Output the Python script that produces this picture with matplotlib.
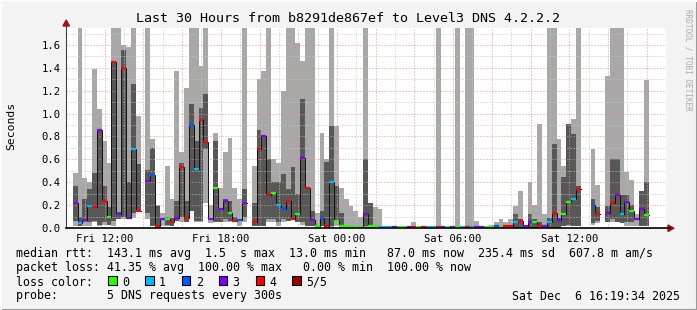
import numpy as np
import matplotlib
matplotlib.use('Agg')
from matplotlib import pyplot as plt
from matplotlib.patches import Rectangle, Polygon
from matplotlib.lines import Line2D

nan = np.nan
W, H = 697, 310

# time axis: hours since Fri 00:00, one bin = 15 min
start_hour = 10.35
bin_hours = 0.25

light_lo = [0.02, 0.02, 0.02, 0.02, 0.05, 0.02, 0.03, 0.03, 0.02, 0.08, 0.08, 0.08, 0.09, 0.15, nan, 0.08, 0.02, 0.0, 0.02, 0.02,
            0.02, 0.06, 0.05, 0.05, 0.15, 0.05, 0.05, 0.22, 0.04, 0.05, 0.05, 0.05, 0.05, 0.05, 0.02, 0.05, nan, 0.02, 0.02, 0.02,
            0.05, 0.05, 0.02, 0.05, 0.06, 0.08, 0.05, 0.03, 0.02, 0.02, 0.0, 0.02, 0.0, 0.0, 0.02, 0.0, 0.0, 0.0, 0.0, 0.0,
            0.0, 0.0, 0.0, 0.0, 0.0, 0.0, 0.0, 0.0, 0.0, 0.0, 0.0, 0.0, 0.0, 0.0, 0.0, 0.0, 0.0, 0.0, 0.0, 0.0,
            0.0, 0.0, 0.0, 0.0, 0.0, 0.0, 0.0, 0.0, 0.0, 0.0, 0.0, 0.0, 0.0, 0.0, 0.0, 0.0, 0.0, 0.0, 0.0, 0.0,
            0.0, 0.02, 0.02, 0.02, 0.02, nan, nan, 0.03, 0.04, nan, 0.05, 0.05, 0.05, 0.04, 0.02, 0.02, 0.02, 0.02, 0.02, nan]
light_hi = [0.48, 1.75, 0.44, 0.40, 1.39, 1.04, 0.76, 0.57, 1.75, 1.75, 1.60, 1.58, 1.75, 0.98, nan, 1.75, 0.78, 0.20, 0.13, 0.54,
            0.25, 1.37, 0.66, 1.22, 1.75, 1.75, 1.42, 1.75, 0.20, 0.83, 0.35, 0.66, 0.79, 0.35, 0.25, 1.75, nan, 0.54, 1.30, 1.37,
            1.75, 0.60, 0.57, 1.20, 1.75, 1.75, 1.62, 1.46, 1.75, 1.75, 0.13, 0.83, 0.60, 1.75, 0.89, 0.35, 0.25, 0.19, 0.15, 0.10,
            1.75, 0.22, 0.18, 0.17, 0.02, 0.02, 0.02, 0.02, 0.02, 0.02, 0.05, 0.02, 0.02, 0.02, 0.02, 1.75, 0.02, 0.02, 0.02, 1.75,
            0.02, 1.75, 1.75, 0.06, 0.02, 0.02, 0.03, 0.05, 0.08, 0.05, 0.08, 0.19, 0.32, 0.03, 0.40, 0.20, 0.91, 0.12, 1.75, 1.75,
            0.78, 0.54, 0.91, 0.95, 1.75, nan, nan, 0.69, 0.38, nan, 1.33, 1.75, 1.75, 1.75, 0.49, 0.42, 0.12, 0.30, 1.29, nan]
dark_lo = [0.06, 0.02, 0.05, 0.05, 0.06, 0.03, 0.05, 0.03, 0.06, 0.08, 0.10, 0.10, 0.13, 0.15, nan, 0.13, 0.02, 0.0, nan, 0.03,
           0.02, 0.06, 0.10, 0.05, 0.15, 0.06, 0.06, 0.69, nan, 0.05, 0.05, 0.08, 0.06, 0.05, nan, 0.10, nan, 0.02, 0.02, 0.02,
           0.08, 0.08, 0.05, 0.08, 0.06, 0.08, 0.05, 0.05, 0.02, 0.02, nan, 0.02, 0.0, 0.02, 0.05, 0.0, nan, nan, nan, nan,
           0.02, 0.0, nan, nan, nan, nan, nan, nan, nan, nan, nan, nan, nan, nan, nan, nan, nan, nan, nan, nan,
           nan, nan, nan, nan, nan, nan, nan, nan, nan, nan, nan, 0.0, 0.0, nan, 0.0, 0.0, 0.0, nan, 0.0, 0.0,
           0.0, 0.02, 0.03, 0.02, 0.02, nan, nan, 0.04, 0.06, nan, 0.05, 0.08, 0.05, 0.04, 0.05, 0.05, nan, 0.02, 0.02, nan]
dark_hi = [0.37, 0.10, 0.25, 0.34, 0.48, 0.86, 0.37, 0.18, 1.46, 0.14, 1.56, 0.40, 1.26, 0.56, nan, 0.51, 0.70, 0.19, nan, 0.10,
           0.09, 0.24, 0.57, 0.24, 1.08, 0.76, 1.05, 1.17, nan, 0.76, 0.17, 0.25, 0.24, 0.10, nan, 0.34, nan, 0.22, 0.86, 0.80,
           0.60, 0.40, 0.40, 0.47, 0.34, 0.53, 0.30, 1.13, 0.35, 0.15, nan, 0.15, 0.58, 0.89, 0.37, 0.13, nan, nan, nan, nan,
           0.60, 0.22, nan, nan, nan, nan, nan, nan, nan, nan, nan, nan, nan, nan, nan, nan, nan, nan, nan, nan,
           nan, nan, nan, nan, nan, nan, nan, nan, nan, nan, nan, 0.12, 0.08, nan, 0.12, 0.08, 0.05, nan, 0.09, 0.73,
           0.09, 0.45, 0.91, 0.82, 0.37, nan, nan, 0.25, 0.18, nan, 0.19, 0.60, 0.60, 0.29, 0.29, 0.20, nan, 0.32, 0.40, nan]
median = [0.22, 0.04, 0.07, 0.19, 0.18, 0.86, 0.24, 0.10, 1.45, 0.12, 1.40, 0.09, 0.69, 0.15, nan, 0.41, 0.46, 0.02, 0.08, 0.08,
          0.05, 0.09, 0.53, 0.09, 0.90, 0.52, 0.94, 0.75, 0.08, 0.35, 0.17, 0.24, 0.13, 0.06, 0.07, 0.22, nan, 0.05, 0.69, 0.80,
          0.29, 0.31, 0.20, 0.17, 0.24, 0.08, 0.12, 0.61, 0.35, 0.07, 0.02, 0.09, 0.02, 0.40, 0.06, 0.02, 0.02, 0.01, 0.01, 0.01,
          0.12, 0.02, 0.02, 0.01, 0.01, 0.01, 0.01, 0.01, 0.01, 0.01, 0.01, 0.01, 0.01, 0.01, 0.01, 0.01, 0.01, 0.01, 0.01, 0.01,
          0.01, 0.01, 0.01, 0.01, 0.01, 0.01, 0.01, 0.02, 0.01, 0.02, 0.02, 0.05, 0.06, 0.02, 0.05, 0.05, 0.02, 0.02, 0.05, 0.13,
          0.07, 0.12, 0.23, 0.25, 0.34, nan, nan, 0.20, 0.12, nan, 0.13, 0.22, 0.29, 0.12, 0.23, 0.15, 0.08, 0.17, 0.11, nan]
loss = [3, 1, 3, 1, 4, 3, 4, 0, 4, 3, 4, 3, 1, 4, 0, 3, 2, 4, 3, 0,
        4, 3, 4, 4, 2, 1, 4, 4, 3, 0, 3, 3, 0, 4, 2, 3, 0, 4, 4, 3,
        4, 0, 1, 2, 4, 4, 0, 3, 4, 3, 0, 2, 4, 1, 0, 0, 0, 0, 0, 0,
        3, 0, 0, 1, 1, 1, 3, 0, 0, 3, 4, 0, 4, 1, 1, 4, 3, 0, 3, 0,
        1, 4, 1, 3, 3, 0, 0, 2, 0, 4, 4, 1, 4, 3, 3, 0, 4, 3, 1, 4,
        3, 0, 0, 1, 4, 0, 0, 2, 4, 0, 3, 4, 3, 1, 3, 0, 3, 3, 0, 0]

loss_colors = ['#26ff00', '#00b8ff', '#0059ff', '#7e00ff', '#ff0000', '#a00000']
loss_labels = ['0', '1', '2', '3', '4', '5/5']
tick_hours = [12, 18, 24, 30, 36]
tick_labels = ['Fri 12:00', 'Fri 18:00', 'Sat 00:00', 'Sat 06:00', 'Sat 12:00']

title = 'Last 30 Hours from b8291de867ef to Level3 DNS 4.2.2.2'
legend_rows = [
    'median rtt:  143.1 ms avg  1.5  s max  13.0 ms min   87.0 ms now  235.4 ms sd  607.8 m am/s',
    'packet loss: 41.35 % avg  100.00 % max   0.00 % min  100.00 % now',
]
probe_text = 'probe:       5 DNS requests every 300s'
date_text = 'Sat Dec  6 16:19:34 2025'

plt.rcParams['font.family'] = 'DejaVu Sans Mono'


def fx(x):
    return x / W


def fy(y):
    return 1 - y / H


fig = plt.figure(figsize=(W / 100, H / 100), dpi=100)
fig.patch.set_facecolor('#f3f3f3')

ax = fig.add_axes([fx(66), fy(228), 600 / W, 200 / H])
ax.set_facecolor('white')

x = start_hour + bin_hours * np.arange(len(median))
light_lo, light_hi = np.array(light_lo), np.array(light_hi)
dark_lo, dark_hi = np.array(dark_lo), np.array(dark_hi)
median = np.array(median)
loss = np.array(loss)

m = ~np.isnan(light_lo)
ax.bar(x[m], light_hi[m] - light_lo[m], bottom=light_lo[m], width=bin_hours,
       align='edge', color='#a8a8a8', linewidth=0, antialiased=False, zorder=1)
m = ~np.isnan(dark_lo)
ax.bar(x[m], dark_hi[m] - dark_lo[m], bottom=dark_lo[m], width=bin_hours,
       align='edge', color='#575757', linewidth=0, antialiased=False, zorder=1)

xs = np.append(x, x[-1] + bin_hours)
ax.plot(xs, np.append(median, median[-1]), drawstyle='steps-post',
        color='#111111', lw=0.7, zorder=2)
m = ~np.isnan(median)
ax.hlines(median[m], x[m], x[m] + bin_hours,
          colors=[loss_colors[i] for i in loss[m]], lw=1.6, zorder=3)

ax.set_xlim(start_hour, start_hour + 30)
ax.set_ylim(0, 200 / 114.4)

major_x = np.arange(10, 42, 2)
ax.set_xticks(major_x)
ax.set_xticklabels([tick_labels[tick_hours.index(h)] if h in tick_hours else '' for h in major_x])
ax.set_xticks(np.arange(11, 42, 2), minor=True)
ax.set_yticks(np.arange(0, 1.75, 0.2))
ax.set_yticklabels([f'{v:.1f}' for v in np.arange(0, 1.75, 0.2)])
ax.set_yticks(np.arange(0.1, 1.75, 0.2), minor=True)
ax.tick_params(which='both', length=0, labelsize=7.6, colors='black')
ax.tick_params(axis='x', pad=4)
ax.tick_params(axis='y', pad=4)
ax.set_axisbelow('line')
ax.grid(which='major', color='#e59292', lw=0.72, linestyle=(0, (1, 2)))
ax.grid(which='minor', color='#c4c4c4', lw=0.72, linestyle=(0, (1, 2)))
for s in ax.spines.values():
    s.set_visible(False)

# axis lines with arrows
fig.add_artist(Line2D([fx(66), fx(66)], [fy(228), fy(24)], color='#404040', lw=0.8))
fig.add_artist(Line2D([fx(66), fx(670)], [fy(228), fy(228)], color='black', lw=1.2))
fig.add_artist(Polygon([[fx(63), fy(26)], [fx(69.5), fy(26)], [fx(66.2), fy(20)]],
                       closed=True, color='#a01010', transform=fig.transFigure))
fig.add_artist(Polygon([[fx(668), fy(225)], [fx(668), fy(231.5)], [fx(674), fy(228.2)]],
                       closed=True, color='#a01010', transform=fig.transFigure))

fig.text(fx(348), fy(19), title, ha='center', va='center', fontsize=9.6)
fig.text(fx(11), fy(126), 'Seconds', rotation=90, ha='center', va='center', fontsize=8.2)
fig.text(fx(688), fy(60), 'RRDTOOL / TOBI OETIKER', rotation=270, ha='center', va='center',
         fontsize=5.6, color='#a8a8a8')

for i, row in enumerate(legend_rows):
    fig.text(fx(16), fy(254 + 14 * i), row, ha='left', va='center', fontsize=8.4)
fig.text(fx(16), fy(282), 'loss color:', ha='left', va='center', fontsize=8.4)
for i, (c, lab) in enumerate(zip(loss_colors, loss_labels)):
    bx = 108.3 + 36.8 * i
    fig.add_artist(Rectangle((fx(bx), fy(284.5)), 8.5 / W, 8.5 / H, facecolor=c,
                             edgecolor='black', lw=0.8, transform=fig.transFigure))
    fig.text(fx(bx + 14), fy(282), lab, ha='left', va='center', fontsize=8.4)
fig.text(fx(16), fy(296), probe_text, ha='left', va='center', fontsize=8.4)
fig.text(fx(680), fy(296), date_text, ha='right', va='center', fontsize=8.4)

# frame
fig.add_artist(Line2D([0, 1], [fy(309.5), fy(309.5)], color='#9a9a9a', lw=1.5))
fig.add_artist(Line2D([fx(696.5), fx(696.5)], [0, 1], color='#9a9a9a', lw=1.5))
fig.add_artist(Line2D([0, 1], [fy(0.5), fy(0.5)], color='#fcfcfc', lw=1.5))
fig.add_artist(Line2D([fx(0.5), fx(0.5)], [0, 1], color='#fcfcfc', lw=1.5))

fig.savefig('out.png', dpi=100, facecolor=fig.get_facecolor())
